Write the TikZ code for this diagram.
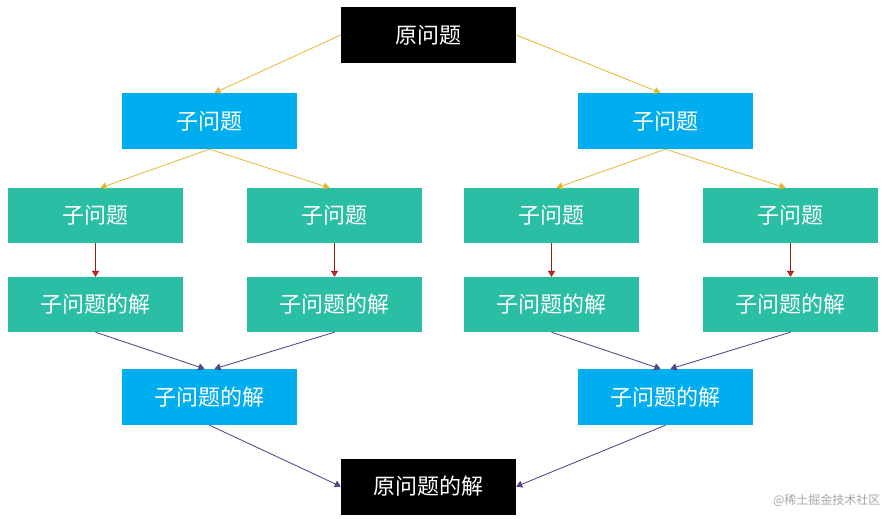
\documentclass[tikz,border=0pt]{standalone}
\usepackage{fontspec}
\setmainfont{Noto Sans CJK SC}
\usetikzlibrary{arrows.meta}
\definecolor{cblue}{RGB}{0,174,239}
\definecolor{cteal}{RGB}{42,190,165}
\definecolor{cgold}{RGB}{230,180,50}
\definecolor{cred}{RGB}{220,40,30}
\definecolor{cpur}{RGB}{100,70,160}
\begin{document}
\begin{tikzpicture}[x=1pt,y=-1pt,
 box/.style={minimum width=175pt,minimum height=56pt,inner sep=0pt,text=white,font=\fontsize{22}{24}\selectfont},
 blk/.style={box,fill=black},
 blu/.style={box,fill=cblue},
 tea/.style={box,fill=cteal,minimum height=55pt},
 ga/.style={draw=cgold,line width=0.8pt,-{Triangle[width=7pt,length=6pt]}},
 ra/.style={draw=cred!70!black,line width=0.8pt,-{Triangle[width=7pt,length=6pt,fill=cred]}},
 pa/.style={draw=cpur!80!black,line width=0.8pt,-{Triangle[width=7pt,length=6pt,fill=cpur]}}]
\useasboundingbox (0,0) rectangle (887,519);
\node[blk] (top) at (428.5,35) {原问题};
\node[blk] (bot) at (428.5,486.5) {原问题的解};
\node[blu] (b1) at (209.5,121) {子问题};
\node[blu] (b2) at (665.5,121) {子问题};
\node[blu] (s1) at (209.5,397) {子问题的解};
\node[blu] (s2) at (665.5,397) {子问题的解};
\foreach \i/\x in {1/95.5,2/334.5,3/551.5,4/790.5}{
 \node[tea] (t\i) at (\x,215.5) {子问题};
 \node[tea] (u\i) at (\x,304.5) {子问题的解};
 \draw[ra] (t\i.south) -- (u\i.north);
}
\draw[ga] (top.west) -- ([xshift=5pt]b1.north);
\draw[ga] (top.east) -- ([xshift=-5pt]b2.north);
\draw[ga] (b1.south) -- ([xshift=5pt]t1.north);
\draw[ga] (b1.south) -- ([xshift=-5pt]t2.north);
\draw[ga] (b2.south) -- ([xshift=5pt]t3.north);
\draw[ga] (b2.south) -- ([xshift=-5pt]t4.north);
\draw[pa] (u1.south) -- ([xshift=-5pt]s1.north);
\draw[pa] (u2.south) -- ([xshift=5pt]s1.north);
\draw[pa] (u3.south) -- ([xshift=-5pt]s2.north);
\draw[pa] (u4.south) -- ([xshift=5pt]s2.north);
\draw[pa] (s1.south) -- (bot.west);
\draw[pa] (s2.south) -- (bot.east);
\node[text=gray!70,font=\fontsize{12}{14}\selectfont,anchor=east] (wm) at (884,500) {@稀土掘金技术社区};
\end{tikzpicture}
\end{document}
